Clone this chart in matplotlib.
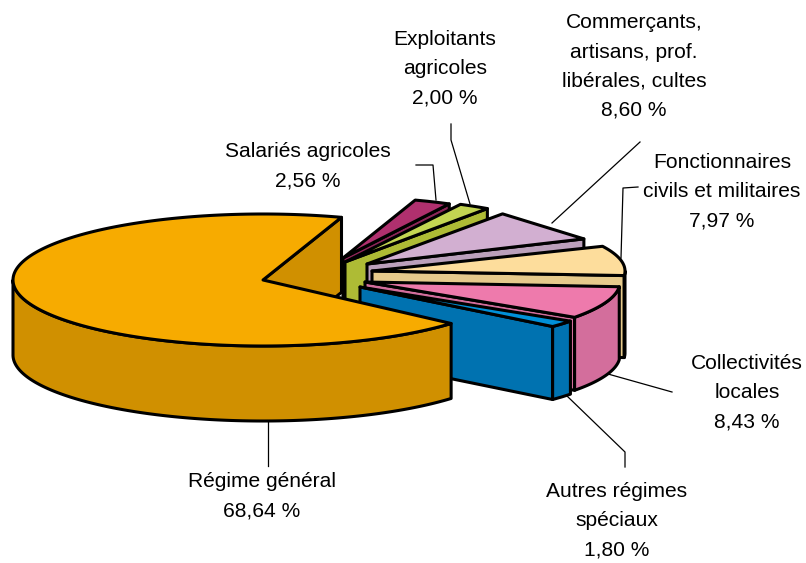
import numpy as np
import matplotlib
matplotlib.use("Agg")
import matplotlib.pyplot as plt
from matplotlib.patches import Polygon

plt.rcParams['font.family'] = ['Liberation Sans', 'DejaVu Sans']

# data (clockwise, starting just right of the back of the pie)
categories = ["Salariés agricoles", "Exploitants\nagricoles",
              "Commerçants,\nartisans, prof.\nlibérales, cultes",
              "Fonctionnaires\ncivils et militaires", "Collectivités\nlocales",
              "Autres régimes\nspéciaux", "Régime général"]
values = [2.56, 2.00, 8.60, 7.97, 8.43, 1.80, 68.64]
value_labels = ["2,56 %", "2,00 %", "8,60 %", "7,97 %", "8,43 %", "1,80 %", "68,64 %"]

# styles
top_colors = ["#B0306E", "#C3D552", "#D2AFD1", "#FDDD9C", "#EE7AAC", "#0090D8", "#F7AB00"]
side_colors = ["#8E2659", "#AEBB35", "#BBA0BB", "#E6CA8C", "#D36E9C", "#0072B0", "#D09000"]

# projection of each exploded slice: apex x, apex y, radius x, radius y, depth, arc steps
layout = [(343, 258, 230, 61, 70, 3),
          (345, 262, 250, 65, 72, 12),
          (367, 264, 238, 61, 60, 1),
          (372, 271, 253, 60, 82, 30),
          (365, 282, 255, 62, 73, 30),
          (360, 287, 256, 60, 73, 3),
          (263, 280, 250, 66, 75, 200)]
start_angle = 18.3
label_pos = [(308, 151), (445, 38), (634, 21), (722, 161), (747, 362), (617, 490), (262, 481)]
leaders = [[(416, 165), (433, 165), (436, 200)],
           [(451, 124), (451, 140), (470, 204)],
           [(640, 142), (552, 223)],
           [(638, 187), (623, 188), (621, 258)],
           [(672, 392), (608, 374)],
           [(625, 467), (625, 452), (567, 396)],
           [(268, 466), (268, 421)]]

fig = plt.figure(figsize=(8.06, 5.63), dpi=100)
ax = fig.add_axes([0, 0, 1, 1])
ax.set_xlim(0, 806)
ax.set_ylim(563, 0)
ax.axis("off")

LW = 2.2


def ell(cx, cy, rx, ry, t):
    t = np.radians(t)
    return np.column_stack([cx + rx * np.sin(t), cy - ry * np.cos(t)])


def poly(pts, color, z):
    ax.add_patch(Polygon(pts, closed=True, facecolor=color, edgecolor="black",
                         linewidth=LW, joinstyle="round", zorder=z))


sweep = np.array(values) / sum(values) * 360
edges = start_angle + np.concatenate([[0], np.cumsum(sweep)])

for i in range(len(values)):
    cx, cy, rx, ry, d, n = layout[i]
    t0, t1 = edges[i], edges[i + 1]
    z = 2 + i
    apex = np.array([[cx, cy]])
    down = np.array([0, d])
    # cut face at the clockwise end
    end = ell(cx, cy, rx, ry, np.array([t1]))
    poly(np.vstack([apex, end, end + down, apex + down]), side_colors[i], z)
    # outer wall
    a, b = max(t0, 90), min(t1, 270)
    if b > a:
        arc = ell(cx, cy, rx, ry, np.linspace(a, b, max(n, 2)))
        poly(np.vstack([arc, (arc + down)[::-1]]), side_colors[i], z)
    # top face
    arc = ell(cx, cy, rx, ry, np.linspace(t0, t1, n + 1))
    poly(np.vstack([apex, arc]), top_colors[i], z)

for pts in leaders:
    xy = np.array(pts)
    ax.plot(xy[:, 0], xy[:, 1], color="black", lw=0.9, zorder=1)

for (x, y), name, val in zip(label_pos, categories, value_labels):
    lines = (name + "\n" + val).split("\n")
    ax.text(x, y + 15.2 * (len(lines) - 1), "\n".join(lines), ha="center", va="center",
            fontsize=15.1, linespacing=1.68, color="black", zorder=20)

fig.savefig("out.png", dpi=100)
